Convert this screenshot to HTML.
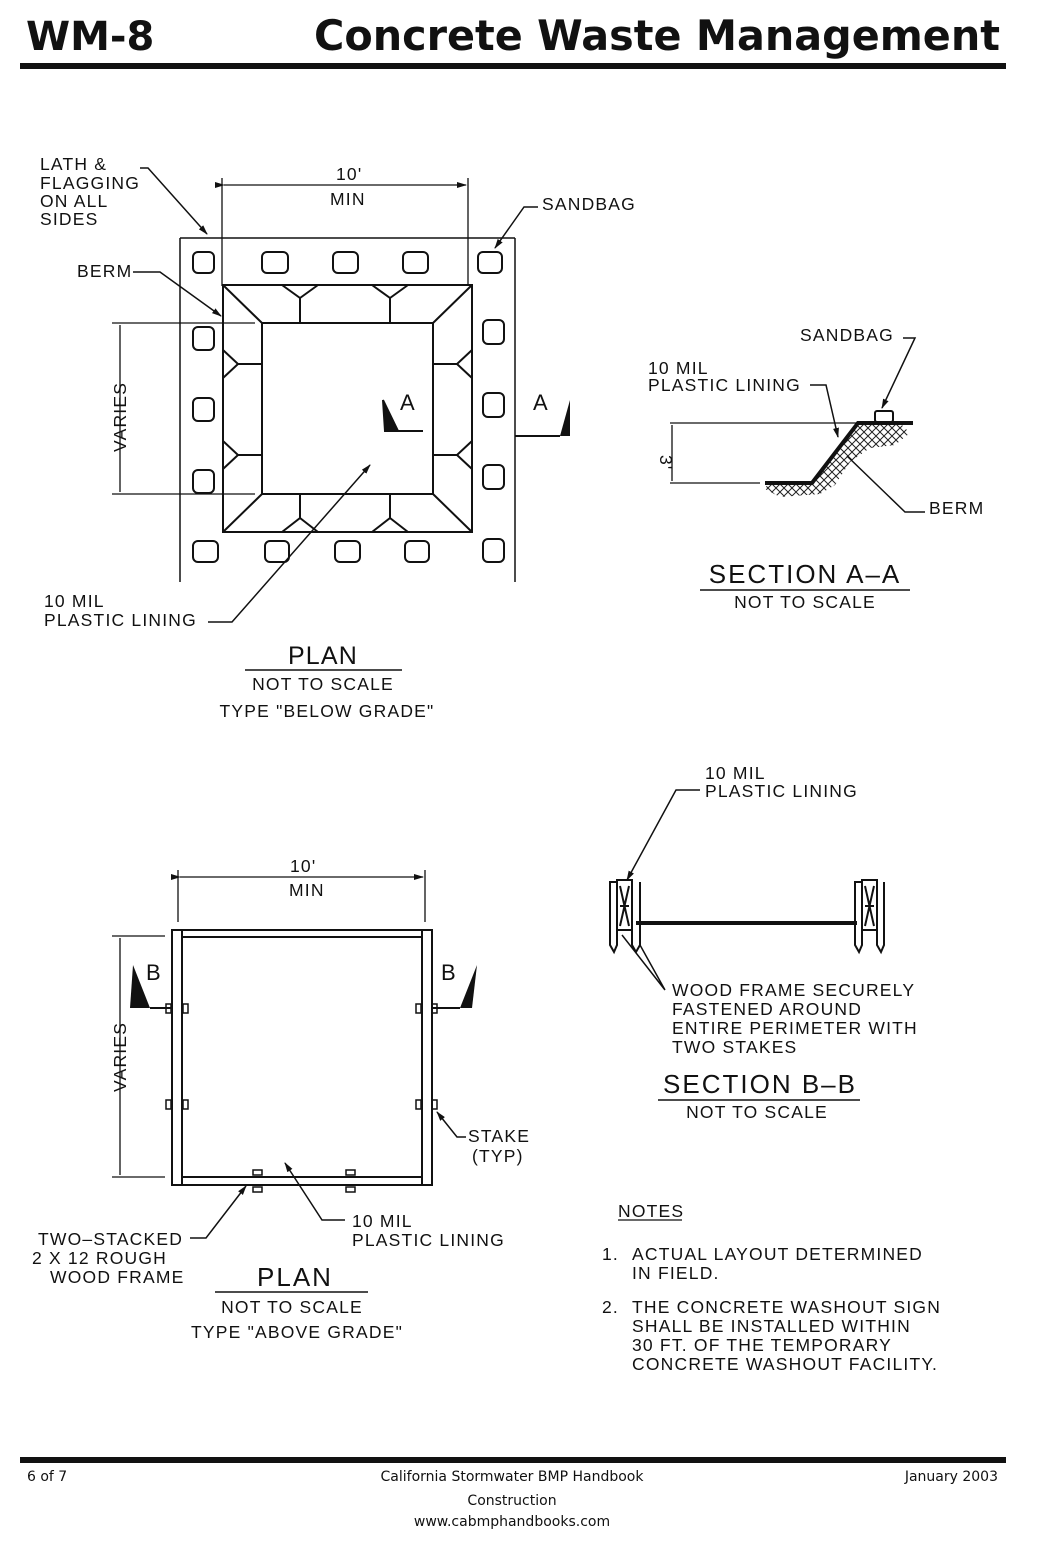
<!DOCTYPE html>
<html><head><meta charset="utf-8"><style>
html,body{margin:0;padding:0;background:#fff}
svg{display:block}
text{font-family:"Liberation Sans",sans-serif;fill:#111}
.c{font-size:17.5px;letter-spacing:1.2px}
</style></head><body>
<svg width="1040" height="1544" viewBox="0 0 1040 1544" xmlns="http://www.w3.org/2000/svg">
<defs>
<pattern id="h" width="8" height="8" patternUnits="userSpaceOnUse"><path d="M0 8L8 0M0 0L8 8" stroke="#222" stroke-width="1"/></pattern>
<marker id="ar" markerWidth="10" markerHeight="6" refX="9" refY="3" orient="auto" markerUnits="userSpaceOnUse"><path d="M0 0L10 3L0 6z" fill="#111"/></marker>
</defs>
<!-- header -->
<text x="26" y="50" style="font-family:'DejaVu Sans',sans-serif;font-weight:bold;font-size:40px">WM-8</text>
<text x="314" y="50" textLength="686" lengthAdjust="spacingAndGlyphs" style="font-family:'DejaVu Sans',sans-serif;font-weight:bold;font-size:42px">Concrete Waste Management</text>
<rect x="20" y="63" width="986" height="6" fill="#111"/>

<g stroke="#111" fill="none" stroke-width="2">
<!-- PLAN 1 -->
<line x1="180" y1="238" x2="515" y2="238" stroke-width="1.5"/>
<line x1="180" y1="238" x2="180" y2="582" stroke-width="1.5"/>
<line x1="515" y1="238" x2="515" y2="582" stroke-width="1.5"/>
<rect x="193" y="252" width="21" height="21" rx="5"/>
<rect x="262" y="252" width="26" height="21" rx="5"/>
<rect x="333" y="252" width="25" height="21" rx="5"/>
<rect x="403" y="252" width="25" height="21" rx="5"/>
<rect x="478" y="252" width="24" height="21" rx="5"/>
<rect x="193" y="327" width="21" height="23" rx="5"/>
<rect x="193" y="398" width="21" height="23" rx="5"/>
<rect x="193" y="470" width="21" height="23" rx="5"/>
<rect x="483" y="320" width="21" height="24" rx="5"/>
<rect x="483" y="393" width="21" height="24" rx="5"/>
<rect x="483" y="465" width="21" height="24" rx="5"/>
<rect x="193" y="541" width="25" height="21" rx="5"/>
<rect x="265" y="541" width="24" height="21" rx="5"/>
<rect x="335" y="541" width="25" height="21" rx="5"/>
<rect x="405" y="541" width="24" height="21" rx="5"/>
<rect x="483" y="539" width="21" height="23" rx="5"/>
<rect x="223" y="285" width="249" height="247"/>
<rect x="262" y="323" width="171" height="171"/>
<path d="M223 285L262 323M472 285L433 323M223 532L262 494M472 532L433 494"/>
<path d="M300 323V298L282 285M300 298L318 285M390 323V298L372 285M390 298L408 285"/>
<path d="M300 494V518L282 532M300 518L318 532M390 494V518L372 532M390 518L408 532"/>
<path d="M262 364H238L223 350M238 364L223 378M262 455H238L223 441M238 455L223 469"/>
<path d="M433 364H457L472 350M457 364L472 378M433 455H457L472 441M457 455L472 469"/>
<!-- dims -->
<line x1="222" y1="178" x2="222" y2="286" stroke-width="1.3"/>
<line x1="468" y1="178" x2="468" y2="286" stroke-width="1.3"/>
<line x1="224" y1="185" x2="466" y2="185" stroke-width="1.3" marker-end="url(#ar)" marker-start="url(#ar)"/>
<line x1="112" y1="323" x2="255" y2="323" stroke-width="1.3"/>
<line x1="112" y1="494" x2="255" y2="494" stroke-width="1.3"/>
<line x1="120" y1="325" x2="120" y2="492" stroke-width="1.3"/>
<!-- section A markers -->
<path d="M398 431H423" />
<path d="M383 400L385 431H398z" fill="#111"/>
<path d="M515 436H560"/>
<path d="M570 400L560 436H570z" fill="#111" stroke="none"/>
<!-- leaders -->
<path d="M140 168H148L207 234" stroke-width="1.5" marker-end="url(#ar)"/>
<path d="M133 272H160L221 316" stroke-width="1.5" marker-end="url(#ar)"/>
<path d="M538 207H524L495 248" stroke-width="1.5" marker-end="url(#ar)"/>
<path d="M208 622H232L370 465" stroke-width="1.5" marker-end="url(#ar)"/>
<line x1="245" y1="670" x2="402" y2="670" stroke-width="1.5"/>

<!-- SECTION A-A -->
<line x1="670" y1="423" x2="858" y2="423" stroke-width="1.3"/>
<line x1="670" y1="483" x2="760" y2="483" stroke-width="1.3"/>
<line x1="672" y1="425" x2="672" y2="481" stroke-width="1.3"/>
<path d="M858 423L900 423L910 433L895 445L870 448L850 462L835 485L820 494L780 497L765 489L768 483L812 483z" fill="url(#h)" stroke="none"/>
<path d="M765 483H812L858 423H913" stroke-width="4"/>
<rect x="875" y="411" width="18" height="11" rx="2"/>
<path d="M903 338H915L882 408" stroke-width="1.5" marker-end="url(#ar)"/>
<path d="M810 385H826L838 437" stroke-width="1.5" marker-end="url(#ar)"/>
<path d="M925 512H905L847 456" stroke-width="1.5"/>
<line x1="700" y1="590" x2="910" y2="590" stroke-width="1.5"/>

<!-- SECTION B-B -->
<g stroke-width="2">
<path d="M610 882V945L614 952L617 945V882z"/>
<path d="M617 880H632V930H617z"/>
<path d="M632 882V945L636 952L640 945V882"/>
<path d="M620 886L629 926M629 886L620 926M620 906H629"/>
<path d="M855 882V945L859 952L862 945V882z"/>
<path d="M862 880H877V930H862z"/>
<path d="M877 882V945L881 952L884 945V882"/>
<path d="M865 886L874 926M874 886L865 926M865 906H874"/>
</g>
<line x1="636" y1="923" x2="857" y2="923" stroke-width="4"/>
<path d="M700 790H676L627 880" stroke-width="1.5" marker-end="url(#ar)"/>
<path d="M665 990L640 945M665 990L622 935" stroke-width="1.5"/>
<line x1="658" y1="1100" x2="860" y2="1100" stroke-width="1.5"/>

<!-- PLAN 2 -->
<rect x="172" y="930" width="10" height="255" stroke-width="2"/>
<rect x="422" y="930" width="10" height="255" stroke-width="2"/>
<line x1="182" y1="930" x2="422" y2="930"/>
<line x1="182" y1="937" x2="422" y2="937"/>
<line x1="182" y1="1177" x2="422" y2="1177"/>
<line x1="182" y1="1185" x2="422" y2="1185"/>
<line x1="178" y1="870" x2="178" y2="922" stroke-width="1.3"/>
<line x1="425" y1="870" x2="425" y2="922" stroke-width="1.3"/>
<line x1="180" y1="877" x2="423" y2="877" stroke-width="1.3" marker-end="url(#ar)" marker-start="url(#ar)"/>
<line x1="112" y1="936" x2="165" y2="936" stroke-width="1.3"/>
<line x1="112" y1="1177" x2="165" y2="1177" stroke-width="1.3"/>
<line x1="120" y1="938" x2="120" y2="1175" stroke-width="1.3"/>
<path d="M133 965L150 1008H130z" fill="#111" stroke="none"/>
<line x1="150" y1="1008" x2="172" y2="1008"/>
<path d="M477 965L472 1008H460z" fill="#111" stroke="none"/>
<line x1="432" y1="1008" x2="460" y2="1008"/>
<g stroke-width="1.5">
<rect x="166" y="1004" width="5" height="9"/><rect x="183" y="1004" width="5" height="9"/>
<rect x="166" y="1100" width="5" height="9"/><rect x="183" y="1100" width="5" height="9"/>
<rect x="416" y="1004" width="5" height="9"/><rect x="432" y="1004" width="5" height="9"/>
<rect x="416" y="1100" width="5" height="9"/><rect x="432" y="1100" width="5" height="9"/>
<rect x="253" y="1170" width="9" height="5"/><rect x="253" y="1187" width="9" height="5"/>
<rect x="346" y="1170" width="9" height="5"/><rect x="346" y="1187" width="9" height="5"/>
</g>
<path d="M466 1137H457L437 1112" stroke-width="1.5" marker-end="url(#ar)"/>
<path d="M345 1220H322L285 1163" stroke-width="1.5" marker-end="url(#ar)"/>
<path d="M190 1238H206L246 1186" stroke-width="1.5" marker-end="url(#ar)"/>
<line x1="215" y1="1292" x2="368" y2="1292" stroke-width="1.5"/>
<line x1="618" y1="1220" x2="682" y2="1220" stroke-width="1.3"/>
</g>

<g class="c">
<text x="40" y="170">LATH &amp;</text>
<text x="40" y="189">FLAGGING</text>
<text x="40" y="207">ON ALL</text>
<text x="40" y="225">SIDES</text>
<text x="77" y="277">BERM</text>
<text x="336" y="180">10'</text>
<text x="330" y="205">MIN</text>
<text x="542" y="210">SANDBAG</text>
<text x="44" y="607">10 MIL</text>
<text x="44" y="626">PLASTIC LINING</text>
<text x="0" y="0" transform="translate(126 452) rotate(-90)">VARIES</text>
<text x="400" y="410" style="font-size:22px">A</text>
<text x="533" y="410" style="font-size:22px">A</text>
<text x="323" y="664" text-anchor="middle" style="font-size:25px">PLAN</text>
<text x="323" y="690" text-anchor="middle">NOT TO SCALE</text>
<text x="327" y="717" text-anchor="middle">TYPE  "BELOW GRADE"</text>

<text x="800" y="341">SANDBAG</text>
<text x="648" y="374">10 MIL</text>
<text x="648" y="391">PLASTIC LINING</text>
<text x="929" y="514">BERM</text>
<text x="0" y="0" transform="translate(660 455) rotate(90)">3'</text>
<text x="805" y="583" text-anchor="middle" style="font-size:26px;letter-spacing:2px">SECTION A–A</text>
<text x="805" y="608" text-anchor="middle">NOT TO SCALE</text>

<text x="705" y="779">10 MIL</text>
<text x="705" y="797">PLASTIC LINING</text>
<text x="672" y="996">WOOD FRAME SECURELY</text>
<text x="672" y="1015">FASTENED AROUND</text>
<text x="672" y="1034">ENTIRE PERIMETER WITH</text>
<text x="672" y="1053">TWO STAKES</text>
<text x="760" y="1093" text-anchor="middle" style="font-size:26px;letter-spacing:2px">SECTION B–B</text>
<text x="757" y="1118" text-anchor="middle">NOT TO SCALE</text>

<text x="290" y="872">10'</text>
<text x="289" y="896">MIN</text>
<text x="0" y="0" transform="translate(126 1092) rotate(-90)">VARIES</text>
<text x="146" y="980" style="font-size:22px">B</text>
<text x="441" y="980" style="font-size:22px">B</text>
<text x="468" y="1142">STAKE</text>
<text x="472" y="1162">(TYP)</text>
<text x="352" y="1227">10 MIL</text>
<text x="352" y="1246">PLASTIC LINING</text>
<text x="38" y="1245">TWO–STACKED</text>
<text x="32" y="1264">2 X 12 ROUGH</text>
<text x="50" y="1283">WOOD FRAME</text>
<text x="295" y="1286" text-anchor="middle" style="font-size:26px;letter-spacing:2px">PLAN</text>
<text x="292" y="1313" text-anchor="middle">NOT TO SCALE</text>
<text x="297" y="1338" text-anchor="middle">TYPE  "ABOVE GRADE"</text>

<text x="618" y="1217">NOTES</text>
<text x="602" y="1260">1.</text>
<text x="632" y="1260">ACTUAL LAYOUT DETERMINED</text>
<text x="632" y="1279">IN FIELD.</text>
<text x="602" y="1313">2.</text>
<text x="632" y="1313">THE CONCRETE WASHOUT SIGN</text>
<text x="632" y="1332">SHALL BE INSTALLED WITHIN</text>
<text x="632" y="1351">30 FT. OF THE TEMPORARY</text>
<text x="632" y="1370">CONCRETE WASHOUT FACILITY.</text>
</g>

<rect x="20" y="1457" width="986" height="6" fill="#111"/>
<g style="font-family:'DejaVu Sans',sans-serif;font-size:14px">
<text x="27" y="1481" style="font-family:'DejaVu Sans',sans-serif">6 of 7</text>
<text x="512" y="1481" text-anchor="middle" style="font-family:'DejaVu Sans',sans-serif">California Stormwater BMP Handbook</text>
<text x="512" y="1505" text-anchor="middle" style="font-family:'DejaVu Sans',sans-serif">Construction</text>
<text x="512" y="1526" text-anchor="middle" style="font-family:'DejaVu Sans',sans-serif">www.cabmphandbooks.com</text>
<text x="998" y="1481" text-anchor="end" style="font-family:'DejaVu Sans',sans-serif">January 2003</text>
</g>
</svg>
</body></html>
